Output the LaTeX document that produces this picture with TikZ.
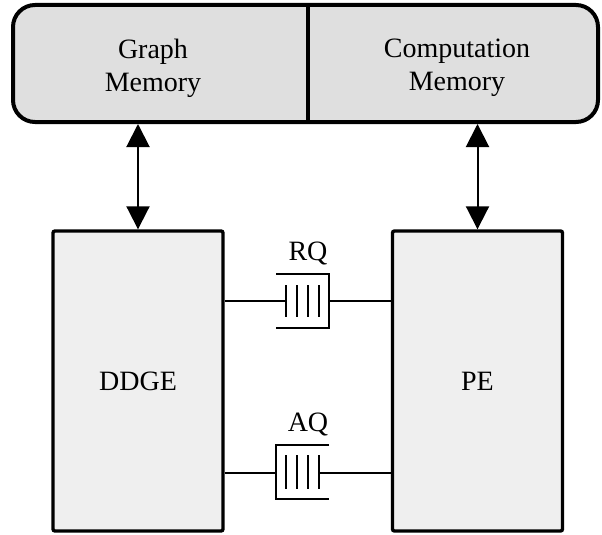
\documentclass[tikz,border=0pt]{standalone}
\usepackage{fontspec}
\setmainfont{Liberation Serif}
\usetikzlibrary{arrows.meta}
\definecolor{memfill}{HTML}{DFDFDF}
\definecolor{boxfill}{HTML}{EFEFEF}
\begin{document}
\begin{tikzpicture}[x=1pt,y=-1pt,
  every node/.style={font=\fontsize{28}{33}\selectfont},
  membox/.style={draw,line width=4pt,fill=memfill,rounded corners=22pt,minimum width=585pt,minimum height=117pt,inner sep=0pt},
  unitbox/.style={draw,line width=3.4pt,fill=boxfill,rounded corners=2pt,minimum width=170pt,minimum height=300pt,inner sep=0pt},
  txt/.style={align=center,inner sep=0pt},
  biarrow/.style={line width=2pt,{Triangle[width=23pt,length=23pt]}-{Triangle[width=23pt,length=23pt]},shorten <=0pt,shorten >=0pt},
  wire/.style={line width=2pt},
  qline/.style={line width=2pt}
]
\useasboundingbox (0,0) rectangle (602,535);
% memory
\node[membox] (mem) at (305.5,63.5) {};
\draw[line width=3.4pt] (308,5) -- (308,122);
\node[txt] (gm) at (153,68) {Graph\\Memory};
\node[txt] (cm) at (457,68) {Computation\\Memory};
% units
\node[unitbox] (ddge) at (138,381) {DDGE};
\node[unitbox] (pe) at (477.5,381) {PE};
% arrows
\draw[biarrow] (ddge.north |- mem.south) -- (ddge.north);
\draw[biarrow] (pe.north |- mem.south) -- (pe.north);
% RQ queue
\node[txt] (rqlabel) at (308,253) {RQ};
\coordinate (rq) at (303,301);
\draw[qline] (276,274) -- (329,274) -- (329,328) -- (276,328);
\foreach \x in {286,297,308,319} \draw[qline] (\x,285) -- (\x,317);
\draw[wire] (ddge.east |- rq) -- (286,301);
\draw[wire] (329,301) -- (pe.west |- rq);
% AQ queue
\node[txt] (aqlabel) at (308,424) {AQ};
\coordinate (aq) at (303,473);
\draw[qline] (329,445) -- (276,445) -- (276,499) -- (329,499);
\foreach \x in {286,297,308,319} \draw[qline] (\x,455) -- (\x,489);
\draw[wire] (ddge.east |- aq) -- (276,473);
\draw[wire] (319,473) -- (pe.west |- aq);
\end{tikzpicture}
\end{document}
